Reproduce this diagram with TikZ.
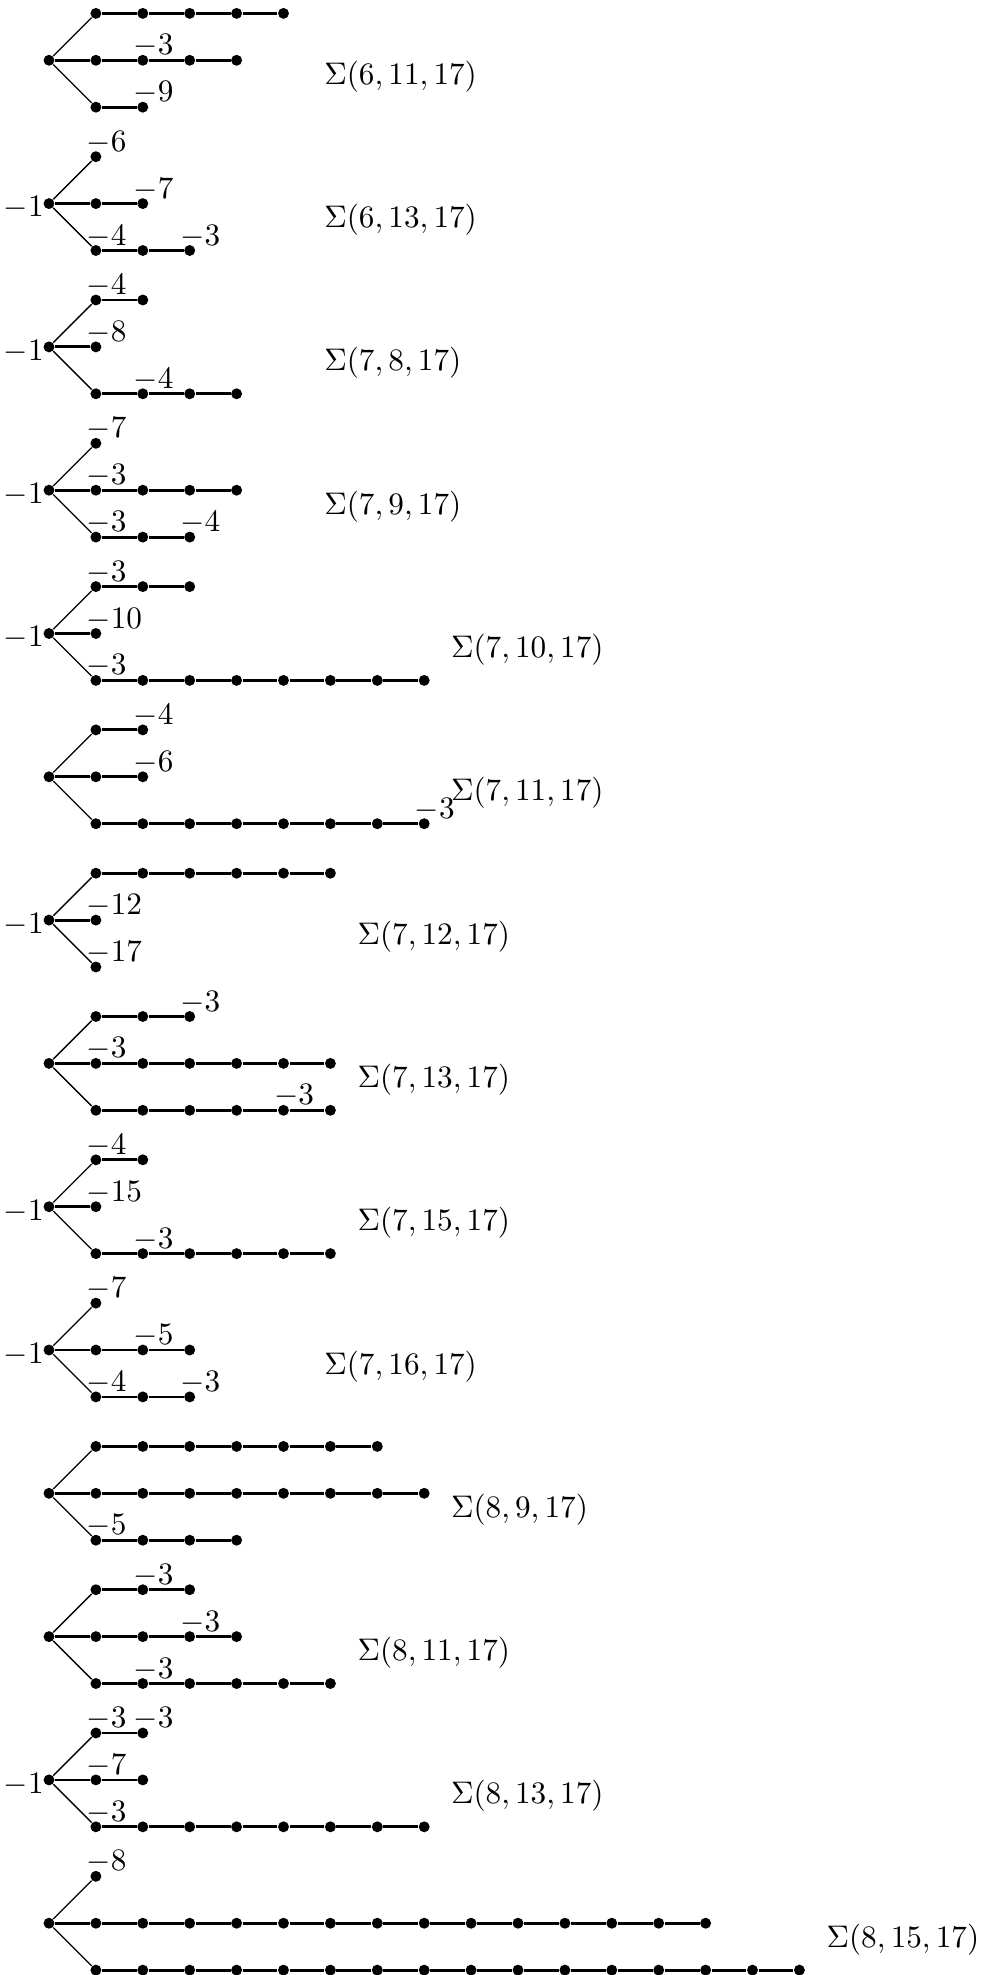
\documentclass[tikz,border=0pt]{standalone}
\tikzset{
  dot/.style={circle, fill=black, draw=none, inner sep=0pt, minimum size=3.5pt},
  hor/.style={line width=0.9pt},
  diag/.style={line width=0.42pt},
  lab/.style={anchor=base west, inner sep=0pt, outer sep=0pt},
  lone/.style={anchor=base east, inner sep=0pt, outer sep=0pt},
  sig/.style={anchor=base west, inner sep=0pt, outer sep=0pt},
}
% centre vertex of diagram #1 at height \cy
\newcommand{\mkcenter}[1]{\node[dot] (#1-c) at (49,\cy) {};}
% arm #2 of diagram #1, row offset #3 (-1,0,1), #4 vertices
\newcommand{\mkarm}[4]{%
  \foreach \k in {1,...,#4}{\node[dot] (#1-#2-\k) at ({49+\k*46.9},{\cy+(#3)*46.9}) {};}
  \ifnum#3=0
    \draw[hor] (#1-c) -- (#1-#2-1);
  \else
    \draw[diag] (#1-c) -- (#1-#2-1);
  \fi
  \ifnum#4>1
    \foreach \k [remember=\k as \kprev (initially 1)] in {2,...,#4}{\draw[hor] (#1-#2-\kprev) -- (#1-#2-\k);}
  \fi
}
\newcommand{\mklab}[2]{\node[lab] (#1-t) at ([xshift=-2.98pt,yshift=1.76pt]#1.center) {$#2$};}
\newcommand{\mkone}[1]{\node[lone] (#1-w) at ([xshift=-1.73pt,yshift=-4.26pt]#1-c.center) {$-1$};}
\newcommand{\mksig}[3]{\node[sig] (#1-s) at (#2,{\cy+24}) {$\Sigma(#3)$};}
\begin{document}
\begin{tikzpicture}[x=0.3205pt,y=-0.3205pt]
\useasboundingbox (0,0) rectangle (982,1975);
% 1
\def\cy{60.3}
\mkcenter{a}\mkarm{a}{u}{-1}{5}\mkarm{a}{m}{0}{4}\mkarm{a}{l}{1}{2}
\mklab{a-m-2}{-3}\mklab{a-l-2}{-9}
\mksig{a}{324.3}{6,11,17}
% 2
\def\cy{203.6}
\mkcenter{b}\mkarm{b}{u}{-1}{1}\mkarm{b}{m}{0}{2}\mkarm{b}{l}{1}{3}
\mkone{b}\mklab{b-u-1}{-6}\mklab{b-m-2}{-7}\mklab{b-l-1}{-4}\mklab{b-l-3}{-3}
\mksig{b}{324.3}{6,13,17}
% 3
\def\cy{346.9}
\mkcenter{c}\mkarm{c}{u}{-1}{2}\mkarm{c}{m}{0}{1}\mkarm{c}{l}{1}{4}
\mkone{c}\mklab{c-u-1}{-4}\mklab{c-m-1}{-8}\mklab{c-l-2}{-4}
\mksig{c}{324.3}{7,8,17}
% 4
\def\cy{490.2}
\mkcenter{d}\mkarm{d}{u}{-1}{1}\mkarm{d}{m}{0}{4}\mkarm{d}{l}{1}{3}
\mkone{d}\mklab{d-u-1}{-7}\mklab{d-m-1}{-3}\mklab{d-l-1}{-3}\mklab{d-l-3}{-4}
\mksig{d}{324.3}{7,9,17}
% 5
\def\cy{633.5}
\mkcenter{e}\mkarm{e}{u}{-1}{3}\mkarm{e}{m}{0}{1}\mkarm{e}{l}{1}{8}
\mkone{e}\mklab{e-u-1}{-3}\mklab{e-m-1}{-10}\mklab{e-l-1}{-3}
\mksig{e}{451}{7,10,17}
% 6
\def\cy{776.8}
\mkcenter{f}\mkarm{f}{u}{-1}{2}\mkarm{f}{m}{0}{2}\mkarm{f}{l}{1}{8}
\mklab{f-u-2}{-4}\mklab{f-m-2}{-6}\mklab{f-l-8}{-3}
\mksig{f}{451}{7,11,17}
% 7
\def\cy{920.1}
\mkcenter{g}\mkarm{g}{u}{-1}{6}\mkarm{g}{m}{0}{1}\mkarm{g}{l}{1}{1}
\mkone{g}\mklab{g-m-1}{-12}\mklab{g-l-1}{-17}
\mksig{g}{357.5}{7,12,17}
% 8
\def\cy{1063.4}
\mkcenter{h}\mkarm{h}{u}{-1}{3}\mkarm{h}{m}{0}{6}\mkarm{h}{l}{1}{6}
\mklab{h-u-3}{-3}\mklab{h-m-1}{-3}\mklab{h-l-5}{-3}
\mksig{h}{357.5}{7,13,17}
% 9
\def\cy{1206.7}
\mkcenter{i}\mkarm{i}{u}{-1}{2}\mkarm{i}{m}{0}{1}\mkarm{i}{l}{1}{6}
\mkone{i}\mklab{i-u-1}{-4}\mklab{i-m-1}{-15}\mklab{i-l-2}{-3}
\mksig{i}{357.5}{7,15,17}
% 10
\def\cy{1350.0}
\mkcenter{j}\mkarm{j}{u}{-1}{1}\mkarm{j}{m}{0}{3}\mkarm{j}{l}{1}{3}
\mkone{j}\mklab{j-u-1}{-7}\mklab{j-m-2}{-5}\mklab{j-l-1}{-4}\mklab{j-l-3}{-3}
\mksig{j}{324.3}{7,16,17}
% 11
\def\cy{1493.3}
\mkcenter{k}\mkarm{k}{u}{-1}{7}\mkarm{k}{m}{0}{8}\mkarm{k}{l}{1}{4}
\mklab{k-l-1}{-5}
\mksig{k}{451}{8,9,17}
% 12
\def\cy{1636.6}
\mkcenter{l}\mkarm{l}{u}{-1}{3}\mkarm{l}{m}{0}{4}\mkarm{l}{l}{1}{6}
\mklab{l-u-2}{-3}\mklab{l-m-3}{-3}\mklab{l-l-2}{-3}
\mksig{l}{357.5}{8,11,17}
% 13
\def\cy{1779.9}
\mkcenter{m}\mkarm{m}{u}{-1}{2}\mkarm{m}{m}{0}{2}\mkarm{m}{l}{1}{8}
\mkone{m}\mklab{m-u-1}{-3}\mklab{m-u-2}{-3}\mklab{m-m-1}{-7}\mklab{m-l-1}{-3}
\mksig{m}{451}{8,13,17}
% 14
\def\cy{1923.2}
\mkcenter{n}\mkarm{n}{u}{-1}{1}\mkarm{n}{m}{0}{14}\mkarm{n}{l}{1}{16}
\mklab{n-u-1}{-8}
\mksig{n}{826.6}{8,15,17}
\end{tikzpicture}
\end{document}
